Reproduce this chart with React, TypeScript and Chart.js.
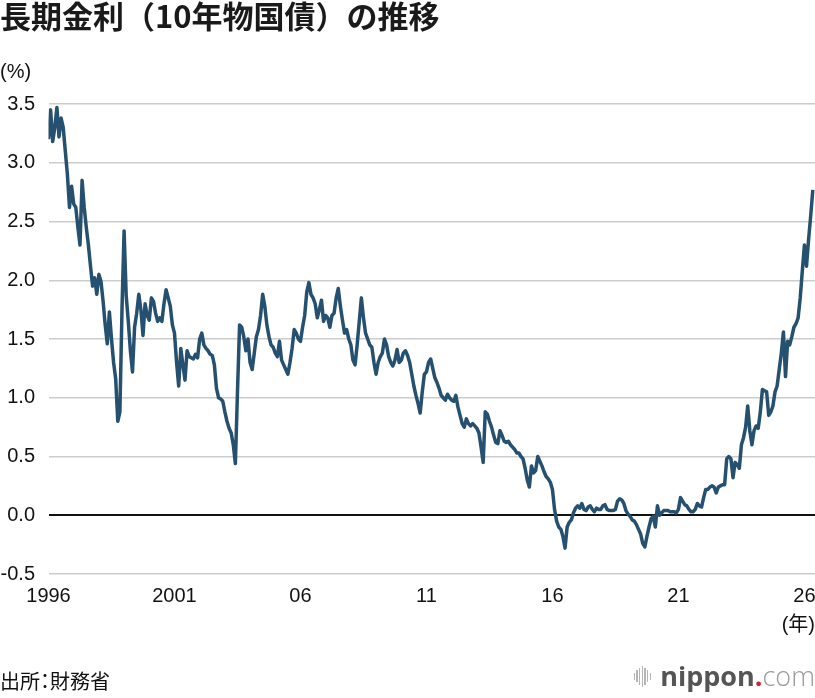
import React, { useEffect, useRef } from 'react';
import { Chart, registerables } from 'chart.js';

Chart.register(...registerables);

// 10-year JGB yield (%), monthly, starting Jan 1996
const START_YEAR = 1996;

const yields1996to2000 = [
  3.2, 3.45, 3.18, 3.3, 3.47, 3.22, 3.38, 3.3, 3.1, 2.9, 2.62, 2.8,
  2.65, 2.62, 2.45, 2.3, 2.85, 2.62, 2.45, 2.3, 2.12, 1.95, 2.02, 1.88,
  2.05, 1.99, 1.82, 1.62, 1.46, 1.73, 1.5, 1.3, 1.16, 0.8, 0.88, 1.75,
  2.42, 1.87, 1.65, 1.4, 1.22, 1.6, 1.72, 1.88, 1.75, 1.53, 1.8, 1.7,
  1.66, 1.85, 1.82, 1.72, 1.65, 1.68, 1.65, 1.8, 1.92, 1.85, 1.78, 1.62,
];

const yields2001to2005 = [
  1.55, 1.3, 1.1, 1.42, 1.28, 1.15, 1.4, 1.35, 1.34, 1.33, 1.37, 1.34,
  1.5, 1.55, 1.45, 1.42, 1.4, 1.37, 1.36, 1.28, 1.08, 1.0, 0.99, 0.97,
  0.88, 0.8, 0.74, 0.7, 0.6, 0.44, 1.05, 1.62, 1.6, 1.52, 1.4, 1.5,
  1.3, 1.24, 1.38, 1.52, 1.58, 1.7, 1.88, 1.78, 1.62, 1.52, 1.45, 1.43,
  1.38, 1.35, 1.48, 1.32, 1.28, 1.24, 1.2, 1.3, 1.42, 1.58, 1.55, 1.5,
];

const yields2006to2010 = [
  1.48, 1.6, 1.7, 1.9, 1.98, 1.88, 1.85, 1.8, 1.68, 1.75, 1.83, 1.65,
  1.7, 1.68, 1.6, 1.7, 1.72, 1.85, 1.93, 1.78, 1.66, 1.55, 1.58, 1.5,
  1.45, 1.32, 1.28, 1.45, 1.65, 1.85, 1.68, 1.55, 1.5, 1.45, 1.43, 1.3,
  1.2, 1.3, 1.35, 1.38, 1.5, 1.45, 1.35, 1.3, 1.27, 1.32, 1.41, 1.3,
  1.32, 1.38, 1.4, 1.36, 1.3, 1.2, 1.1, 1.02, 0.95, 0.87, 1.05, 1.2,
];

const yields2011to2015 = [
  1.22, 1.3, 1.33, 1.25, 1.17, 1.13, 1.08, 1.02, 1.0, 0.98, 1.03, 1.0,
  0.98, 0.97, 1.02, 0.92, 0.85, 0.78, 0.75, 0.82, 0.78, 0.76, 0.78, 0.76,
  0.74, 0.7, 0.58, 0.45, 0.88, 0.86, 0.8, 0.75, 0.68, 0.62, 0.61, 0.72,
  0.68, 0.63, 0.62, 0.63, 0.6, 0.58, 0.56, 0.53, 0.53, 0.5, 0.48, 0.4,
  0.3, 0.24, 0.42, 0.36, 0.38, 0.5, 0.46, 0.42, 0.37, 0.33, 0.31, 0.28,
];

const yields2016to2020 = [
  0.22, 0.05, -0.05, -0.1, -0.12, -0.18, -0.28, -0.1, -0.06, -0.04, 0.02, 0.06,
  0.08, 0.06, 0.1, 0.05, 0.04, 0.07, 0.08, 0.05, 0.03, 0.06, 0.05, 0.05,
  0.08, 0.09, 0.05, 0.04, 0.04, 0.04, 0.05, 0.12, 0.14, 0.13, 0.1, 0.04,
  0.01, -0.01, -0.04, -0.05, -0.08, -0.12, -0.16, -0.24, -0.27, -0.18, -0.1, -0.03,
  -0.01, -0.1, 0.08, 0.0, 0.02, 0.04, 0.04, 0.04, 0.03, 0.03, 0.03, 0.02,
];

const yields2021to2026 = [
  0.05, 0.15, 0.12, 0.09, 0.08, 0.05, 0.03, 0.03, 0.05, 0.1, 0.08, 0.07,
  0.15, 0.22, 0.22, 0.24, 0.25, 0.24, 0.19, 0.24, 0.25, 0.26, 0.26, 0.48,
  0.5, 0.48, 0.32, 0.45, 0.43, 0.4, 0.6, 0.66, 0.75, 0.93, 0.72, 0.6,
  0.72, 0.76, 0.74, 0.88, 1.07, 1.06, 1.05, 0.85, 0.88, 0.93, 1.05, 1.1,
  1.24, 1.38, 1.56, 1.18, 1.48, 1.45, 1.52, 1.6, 1.63, 1.68, 1.85, 2.08,
  2.3, 2.12, 2.35, 2.55, 2.77,
];

const xTickYears = [1996, 2001, 2006, 2011, 2016, 2021, 2026];
const xTickLabels = ['1996', '2001', '06', '11', '16', '21', '26'];
const yTicks = [-0.5, 0, 0.5, 1, 1.5, 2, 2.5, 3, 3.5];

const LINE_COLOR = '#25506f';
const NUM_FONT = '"Liberation Sans", Arial, sans-serif';
const JP_FONT = '"Noto Sans CJK JP", sans-serif';

const YieldChart: React.FC = () => {
  const canvasRef = useRef<HTMLCanvasElement>(null);
  const chartRef = useRef<Chart | null>(null);

  useEffect(() => {
    if (!canvasRef.current) return;
    const ctx = canvasRef.current.getContext('2d');
    if (!ctx) return;

    const allYields = [
      ...yields1996to2000,
      ...yields2001to2005,
      ...yields2006to2010,
      ...yields2011to2015,
      ...yields2016to2020,
      ...yields2021to2026,
    ];
    const points = allYields.map((v, i) => ({ x: START_YEAR + i / 12, y: v }));

    chartRef.current = new Chart(ctx, {
      type: 'line',
      data: {
        datasets: [
          {
            data: points,
            borderColor: LINE_COLOR,
            borderWidth: 3.5,
            pointRadius: 0,
            tension: 0,
            borderJoinStyle: 'round',
          },
        ],
      },
      options: {
        animation: false,
        responsive: false,
        layout: { padding: { top: 104, bottom: 84, left: 0, right: 0 } },
        plugins: { legend: { display: false }, tooltip: { enabled: false } },
        scales: {
          x: {
            type: 'linear',
            min: 1996,
            max: 2026.42,
            afterBuildTicks: (s: any) => {
              s.ticks = xTickYears.map((v) => ({ value: v }));
            },
            afterFit: (s: any) => {
              s.height = 40;
              s.paddingLeft = 0;
              s.paddingRight = 0;
            },
            grid: { display: false, drawTicks: false },
            border: { display: false },
            ticks: {
              autoSkip: false,
              maxRotation: 0,
              padding: 10,
              color: '#111',
              font: { family: NUM_FONT, size: 20 },
              callback: (_v: any, i: number) => xTickLabels[i],
            },
          },
          y: {
            min: -0.5,
            max: 3.5,
            afterBuildTicks: (s: any) => {
              s.ticks = yTicks.map((v) => ({ value: v }));
            },
            afterFit: (s: any) => {
              s.width = 48.5;
            },
            grid: {
              drawTicks: false,
              color: (c: any) => (c.tick && c.tick.value === 0 ? '#111' : '#cccccc'),
              lineWidth: (c: any) => (c.tick && c.tick.value === 0 ? 2 : 1.5),
            },
            border: { display: false },
            ticks: {
              padding: 13.5,
              color: '#111',
              font: { family: NUM_FONT, size: 20 },
              callback: (v: any) => Number(v).toFixed(1),
            },
          },
        },
      },
    });

    return () => {
      if (chartRef.current) {
        chartRef.current.destroy();
        chartRef.current = null;
      }
    };
  }, []);

  return (
    <canvas
      ref={canvasRef}
      width={815}
      height={698}
      style={{ position: 'absolute', left: 0, top: 0, width: 815, height: 698 }}
    />
  );
};

const logoBars = [7, 12, 17, 21, 17, 12, 7];

const App: React.FC = () => {
  return (
    <div
      style={{
        position: 'absolute',
        left: 0,
        top: 0,
        width: 815,
        height: 698,
        background: '#fff',
        overflow: 'hidden',
        color: '#111',
      }}
    >
      <YieldChart />
      <div
        style={{
          position: 'absolute',
          left: 0,
          top: -1,
          fontFamily: JP_FONT,
          fontWeight: 700,
          fontSize: 31,
          lineHeight: '31px',
          whiteSpace: 'nowrap',
          color: '#1a1a1a',
        }}
      >
        長期金利（10年物国債）の推移
      </div>
      <div
        style={{
          position: 'absolute',
          left: 0,
          top: 61,
          fontFamily: NUM_FONT,
          fontSize: 20,
          lineHeight: '20px',
        }}
      >
        (%)
      </div>
      <div
        style={{
          position: 'absolute',
          right: 0,
          top: 614,
          fontFamily: `${NUM_FONT.split(',')[0]}, ${JP_FONT}`,
          fontSize: 20,
          lineHeight: '20px',
          whiteSpace: 'nowrap',
        }}
      >
        (年)
      </div>
      <div
        style={{
          position: 'absolute',
          left: 0,
          top: 671,
          fontFamily: JP_FONT,
          fontSize: 20,
          lineHeight: '20px',
          fontFeatureSettings: '"palt"',
          whiteSpace: 'nowrap',
        }}
      >
        出所：財務省
      </div>
      <div
        style={{
          position: 'absolute',
          right: 0,
          top: 660,
          height: 32,
          display: 'flex',
          alignItems: 'center',
          whiteSpace: 'nowrap',
        }}
      >
        <div style={{ display: 'flex', alignItems: 'center', gap: 1.3, marginRight: 9 }}>
          {logoBars.map((h, i) => (
            <div key={i} style={{ width: 1.4, height: h, background: '#b5b5b5' }} />
          ))}
        </div>
        <span style={{ fontFamily: '"Open Sans", sans-serif', fontSize: 27, lineHeight: '32px' }}>
          <span style={{ fontWeight: 700, color: '#555' }}>nippon</span>
          <span style={{ fontWeight: 700, color: '#d0232b' }}>.</span>
          <span style={{ fontWeight: 300, color: '#9a9a9a' }}>com</span>
        </span>
      </div>
    </div>
  );
};

export default App;
